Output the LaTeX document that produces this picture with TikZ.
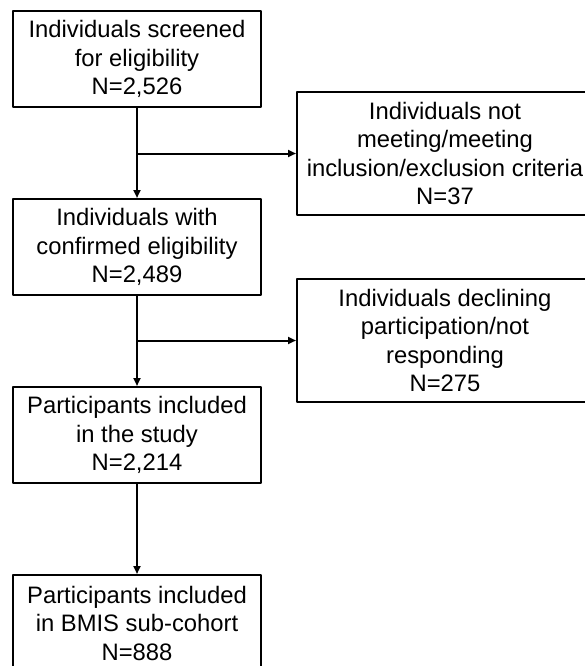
\documentclass[tikz,border=0pt]{standalone}
\usepackage{fontspec}
\setmainfont{Liberation Sans}
\usetikzlibrary{arrows.meta}
\begin{document}
\begin{tikzpicture}[x=1pt, y=-1pt, line join=round, >={Triangle[length=8pt,width=7pt]}, font=\fontsize{23.8}{28.5}\selectfont,
	box/.style={draw, line width=2pt, align=center, inner sep=0pt, minimum width=248pt, minimum height=96pt},
	sidebox/.style={box, minimum width=296pt, minimum height=123pt}]
	\useasboundingbox (0,0) rectangle (584,666);
	\node[box] (screened) at (137,59) {Individuals screened\\for eligibility\\N=2,526};
	\node[sidebox] (notmeeting) at (445,153.5) {Individuals not\\meeting/meeting\\inclusion/exclusion criteria\\N=37};
	\node[box] (confirmed) at (137,247) {Individuals with\\confirmed eligibility\\N=2,489};
	\node[sidebox] (declining) at (445,340.5) {Individuals declining\\participation/not\\responding\\N=275};
	\node[box] (included) at (137,435) {Participants included\\in the study\\N=2,214};
	\node[box] (subcohort) at (137,623) {Participants included\\in BMIS sub-cohort\\N=888};
	\begin{scope}[line width=2pt]
		\draw[->] (screened) -- (confirmed);
		\draw[->] (screened |- notmeeting.west) -- (notmeeting.west);
		\draw[->] (confirmed) -- (included);
		\draw[->] (confirmed |- declining.west) -- (declining.west);
		\draw[->] (included) -- (subcohort);
	\end{scope}
\end{tikzpicture}
\end{document}
